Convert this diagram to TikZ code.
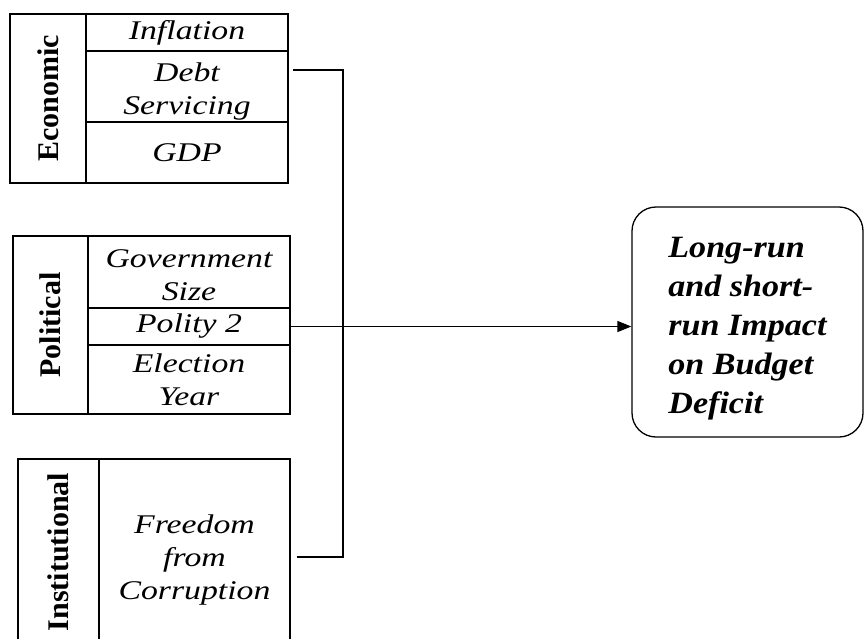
\documentclass[tikz,border=0pt]{standalone}
\usepackage{fontspec}
\setmainfont{Liberation Serif}
\newfontfamily\itemfont[FakeStretch=1.25]{Liberation Serif}
\newfontfamily\boxfont[FakeStretch=1.1]{Liberation Serif}
\usetikzlibrary{arrows.meta}
\tikzset{
  cell/.style={draw, line width=1.3pt, inner sep=0pt, align=center,
    font=\itemfont\itshape\fontsize{27}{33}\selectfont},
  side/.style={draw, line width=1.3pt, inner sep=0pt, rotate=90,
    font=\bfseries\fontsize{30}{34}\selectfont},
  outbox/.style={draw, line width=1.3pt, rounded corners=24pt, inner sep=0pt,
    align=left, font=\boxfont\bfseries\itshape\fontsize{31}{39}\selectfont}
}
\begin{document}
\begin{tikzpicture}[x=1pt,y=-1pt]
    \path[use as bounding box, clip] (0,0) rectangle (864,638);
    \fill[white] (0,0) rectangle (864,638);
    % economic block
    \node[side, minimum width=169pt, minimum height=76pt] (econ) at (48,98.5) {Economic};
    \node[cell, minimum width=202pt, minimum height=37pt] (infl) at (187,32.5) {Inflation};
    \node[cell, minimum width=202pt, minimum height=71pt] (debt) at (187,86.5) {\rule{0pt}{28pt}Debt\\Servicing};
    \node[cell, minimum width=202pt, minimum height=61pt] (gdp) at (187,152.5) {GDP};
    % political block
    \node[side, minimum width=178pt, minimum height=75pt] (polit) at (50.5,325) {Political};
    \node[cell, minimum width=202pt, minimum height=72pt] (gov) at (189,272) {\rule{0pt}{25pt}Government\\Size};
    \node[cell, minimum width=202pt, minimum height=37pt] (pol) at (189,326.5) {Polity 2};
    \node[cell, minimum width=202pt, minimum height=69pt] (elec) at (189,379.5) {Election\\Year};
    % institutional block
    \node[side, minimum width=186pt, minimum height=81pt] (inst) at (58.5,552) {Institutional};
    \node[cell, minimum width=191pt, minimum height=202pt] (free) at (194.5,560) {Freedom\\from\\Corruption};
    % outcome
    \node[outbox, minimum width=231pt, minimum height=230pt] (out) at (747.5,322)
        {\rule{0pt}{34pt}Long-run\\and short-\\run Impact\\on Budget\\Deficit};
    % connectors
    \coordinate (jtop) at (343,70);
    \coordinate (jbot) at (343,557);
    \draw[line width=1.3pt] ([xshift=4pt]debt.east |- jtop) -- (jtop) -- (jbot) -- ([xshift=6pt]free.east |- jbot);
    \draw[line width=1.3pt, -{Triangle[length=14pt,width=11pt]}] (pol.east) -- (pol.east -| out.west);
\end{tikzpicture}
\end{document}
